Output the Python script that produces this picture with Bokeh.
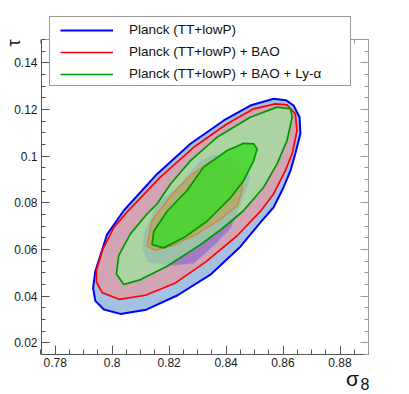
import math
from bokeh.plotting import figure
from bokeh.models import (LinearAxis, FixedTicker, Range1d, Legend, LegendItem,
                          Label)
from bokeh.embed import file_html
from bokeh.resources import INLINE

# ---------------- data (sigma_8, tau) contour vertices ----------------
planck_2s_x = [0.7941, 0.7982, 0.8041, 0.8158, 0.8275, 0.8392, 0.8485, 0.8567,
               0.8610, 0.8637, 0.8658, 0.8661, 0.8643, 0.8626, 0.8602, 0.8567,
               0.8520, 0.8450, 0.8345, 0.8230, 0.8120, 0.8029, 0.7971, 0.7941,
               0.7933]
planck_2s_y = [0.0507, 0.0664, 0.0767, 0.0924, 0.1053, 0.1153, 0.1217, 0.1246,
               0.1240, 0.1217, 0.1167, 0.1096, 0.1010, 0.0938, 0.0867, 0.0781,
               0.0715, 0.0612, 0.0492, 0.0404, 0.0342, 0.0324, 0.0343, 0.0380,
               0.0436]

bao_2s_x = [0.7945, 0.7965, 0.8006, 0.8052, 0.8169, 0.8286, 0.8404, 0.8497,
            0.8573, 0.8614, 0.8643, 0.8649, 0.8632, 0.8608, 0.8567, 0.8525,
            0.8440, 0.8330, 0.8220, 0.8117, 0.8026, 0.7965, 0.7945]
bao_2s_y = [0.0510, 0.0595, 0.0695, 0.0760, 0.0910, 0.1038, 0.1139, 0.1203,
            0.1224, 0.1220, 0.1181, 0.1110, 0.1010, 0.0938, 0.0838, 0.0770,
            0.0660, 0.0548, 0.0455, 0.0404, 0.0386, 0.0415, 0.0460]

lya_2s_x = [0.8023, 0.8064, 0.8123, 0.8158, 0.8205, 0.8275, 0.8368, 0.8485,
            0.8579, 0.8626, 0.8632, 0.8614, 0.8579, 0.8532, 0.8460, 0.8386,
            0.8310, 0.8193, 0.8100, 0.8041, 0.8015]
lya_2s_y = [0.0574, 0.0667, 0.0753, 0.0796, 0.0881, 0.0981, 0.1081, 0.1167,
            0.1210, 0.1203, 0.1167, 0.1067, 0.0967, 0.0867, 0.0765, 0.0689,
            0.0621, 0.0528, 0.0471, 0.0450, 0.0495]

planck_1s_x = [0.8111, 0.8158, 0.8228, 0.8310, 0.8351, 0.8421, 0.8468, 0.8485,
               0.8479, 0.8450, 0.8416, 0.8360, 0.8287, 0.8200, 0.8123, 0.8105]
planck_1s_y = [0.0667, 0.0800, 0.0867, 0.0981, 0.1003, 0.1010, 0.0967, 0.0910,
               0.0881, 0.0790, 0.0689, 0.0620, 0.0540, 0.0530, 0.0545, 0.0610]

bao_1s_x = [0.8123, 0.8140, 0.8211, 0.8281, 0.8351, 0.8409, 0.8456, 0.8456,
            0.8440, 0.8380, 0.8300, 0.8220, 0.8150, 0.8123]
bao_1s_y = [0.0621, 0.0724, 0.0838, 0.0924, 0.0981, 0.0989, 0.0938, 0.0853,
            0.0790, 0.0730, 0.0668, 0.0620, 0.0596, 0.0615]

lya_1s_x = [0.8146, 0.8193, 0.8263, 0.8321, 0.8404, 0.8462, 0.8497, 0.8509,
            0.8497, 0.8462, 0.8415, 0.8333, 0.8251, 0.8181, 0.8140]
lya_1s_y = [0.0678, 0.0764, 0.0853, 0.0953, 0.1024, 0.1055, 0.1053, 0.1031,
            0.0981, 0.0896, 0.0821, 0.0721, 0.0650, 0.0607, 0.0621]

legend_labels = ["Planck (TT+lowP)", "Planck (TT+lowP) + BAO",
                 "Planck (TT+lowP) + BAO + Ly-\u03b1"]

x_ticks = [0.78, 0.80, 0.82, 0.84, 0.86, 0.88]
x_tick_labels = ["0.78", "0.8", "0.82", "0.84", "0.86", "0.88"]
y_ticks = [0.02, 0.04, 0.06, 0.08, 0.10, 0.12, 0.14]
y_tick_labels = ["0.02", "0.04", "0.06", "0.08", "0.1", "0.12", "0.14"]
x_minor = [round(0.775 + 0.005 * i, 3) for i in range(24)]
y_minor = [round(0.015 + 0.005 * i, 3) for i in range(28)]

# axis frame (data) and its placement on the 409 x 394 canvas (pixels)
X0, X1 = 0.7752, 0.89
Y0, Y1 = 0.015, 0.15
W, H = 409, 394
FL, FR, FT, FB = 41, 368, 39, 354     # frame left/right/top/bottom pixels
kx = (X1 - X0) / (FR - FL)
ky = (Y1 - Y0) / (FB - FT)
x_range = Range1d(X0 - FL * kx, X1 + (W - FR) * kx)
y_range = Range1d(Y0 - (H - FB) * ky, Y1 + FT * ky)

FONT = "Liberation Sans"

p = figure(width=W, height=H, x_range=x_range, y_range=y_range,
           output_backend="svg", toolbar_location=None, min_border=0)
p.xgrid.visible = False
p.ygrid.visible = False
p.outline_line_color = None
p.background_fill_color = "white"
p.border_fill_color = "white"


def closed(xs, ys):
    return list(xs) + [xs[0]], list(ys) + [ys[0]]


# filled regions, drawn in the order the translucent layers stack
p.patch(planck_2s_x, planck_2s_y, fill_color="#a3c1e2", line_color=None)
p.patch(bao_2s_x, bao_2s_y, fill_color="#d3a5b4", line_color=None)
p.patch(planck_1s_x, planck_1s_y, fill_color="#5028e6", fill_alpha=0.35,
        line_color="#9aa8cc", line_alpha=0.7, line_width=1)
p.patch(lya_2s_x, lya_2s_y, fill_color="#92f396", fill_alpha=0.6,
        line_color=None)
p.patch(bao_1s_x, bao_1s_y, fill_color="#dc8c28", fill_alpha=0.4,
        line_color="#d2843c", line_width=1.2)
p.patch(lya_1s_x, lya_1s_y, fill_color="#46d72d", fill_alpha=0.88,
        line_color=None)

# outlines
cx, cy = closed(planck_2s_x, planck_2s_y)
r_blue = p.line(cx, cy, line_color="#0000ff", line_width=2)
cx, cy = closed(bao_2s_x, bao_2s_y)
r_red = p.line(cx, cy, line_color="#ff0000", line_width=1.7)
cx, cy = closed(lya_2s_x, lya_2s_y)
r_green = p.line(cx, cy, line_color="#009600", line_width=1.7)
cx, cy = closed(lya_1s_x, lya_1s_y)
p.line(cx, cy, line_color="#009600", line_width=1.7)


# axes, all pinned to the drawn frame
def style_axis(ax, ticks, labels, minor, tick_in, minor_in, standoff, color,
               bounds, loc):
    ax.fixed_location = loc
    ax.ticker = FixedTicker(ticks=ticks, minor_ticks=minor)
    ax.major_label_overrides = dict(zip(ticks, labels))
    ax.bounds = bounds
    ax.major_tick_in = tick_in
    ax.major_tick_out = 0
    ax.minor_tick_in = minor_in
    ax.minor_tick_out = 0
    ax.axis_line_color = color
    ax.major_tick_line_color = color
    ax.minor_tick_line_color = color
    ax.major_label_standoff = standoff
    ax.major_label_text_font = FONT
    ax.major_label_text_font_size = "12px"
    ax.major_label_text_color = "#1a1a1a"


style_axis(p.xaxis[0], x_ticks, x_tick_labels, x_minor, 9, 5, 3, "#555555",
           (X0, X1), Y0)
style_axis(p.yaxis[0], y_ticks, y_tick_labels, y_minor, 8, 4, 4, "#555555",
           (Y0, Y1), X0)
top_ax = LinearAxis()
style_axis(top_ax, x_ticks, [""] * len(x_ticks), x_minor, 8, 4, 0, "#9a9a9a",
           (X0, X1), Y1)
p.add_layout(top_ax, "above")
right_ax = LinearAxis()
style_axis(right_ax, y_ticks, [""] * len(y_ticks), y_minor, 8, 4, 0, "#9a9a9a",
           (Y0, Y1), X1)
p.add_layout(right_ax, "right")

# axis titles (screen units from the canvas bottom-left)
p.add_layout(Label(x=13, y=H - 42.5, x_units="screen", y_units="screen",
                   text="\u03c4", angle=math.pi / 2, text_align="center",
                   text_baseline="middle", text_font=FONT,
                   text_font_size="18px", text_color="#111111"))
p.add_layout(Label(x=352, y=H - 378, x_units="screen", y_units="screen",
                   text="\u03c3", text_align="center", text_baseline="middle",
                   text_font=FONT, text_font_size="21px",
                   text_color="#111111"))
p.add_layout(Label(x=364.5, y=H - 383.5, x_units="screen", y_units="screen",
                   text="8", text_align="center", text_baseline="middle",
                   text_font=FONT, text_font_size="16px",
                   text_color="#111111"))

# legend: box + texts (samples hidden), then the line samples on top
dummies = [p.line([], [], line_color=c, line_alpha=0)
           for c in ("#0000ff", "#ff0000", "#009600")]
legend_box = Legend(items=[LegendItem(label=l, renderers=[d])
                           for l, d in zip(legend_labels, dummies)],
                    location=(49, H - 86), padding=1, spacing=0, margin=0,
                    glyph_width=62, glyph_height=22, label_height=22,
                    label_width=220, label_standoff=16,
                    label_text_font=FONT, label_text_font_size="13.5px",
                    label_text_color="#111111",
                    border_line_color="#333333", border_line_width=1,
                    background_fill_color="white", background_fill_alpha=1.0)
p.add_layout(legend_box, "center")
legend_lines = Legend(items=[LegendItem(label=" ", renderers=[r])
                             for r in (r_blue, r_red, r_green)],
                      location=(60, H - 85), padding=0, spacing=0, margin=0,
                      glyph_width=53, glyph_height=22, label_height=22,
                      label_width=1, label_standoff=0,
                      label_text_font_size="1px",
                      border_line_color=None, background_fill_alpha=0.0)
p.add_layout(legend_lines, "center")

open("out.html", "w").write(file_html(p, INLINE))
